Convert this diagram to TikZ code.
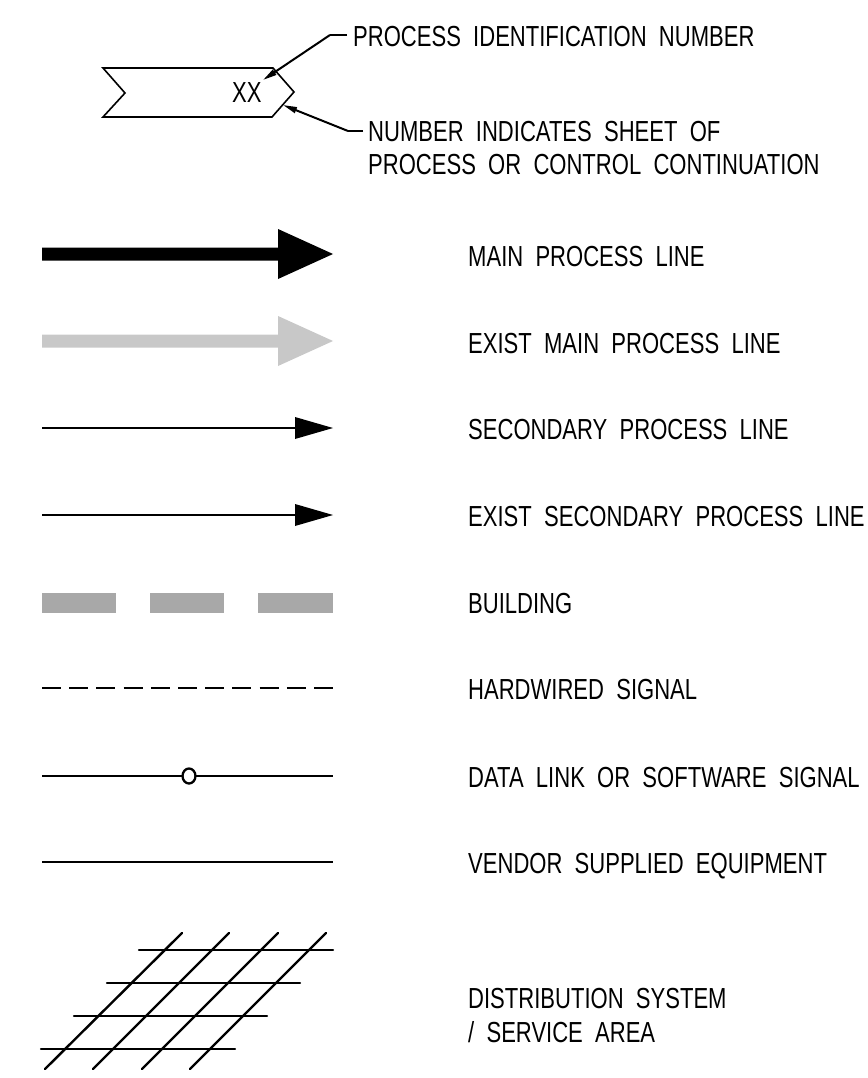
\documentclass[tikz,border=0pt]{standalone}
\usepackage{fontspec}
\setmainfont{Liberation Sans}[FakeStretch=0.76, WordSpace=2.0]
\usetikzlibrary{arrows.meta}
\definecolor{existgray}{RGB}{200,200,200}
\definecolor{buildgray}{RGB}{168,168,168}
\tikzset{
  lbl/.style={anchor=base west, inner sep=0pt, font=\fontsize{29}{34}\selectfont},
  leader/.style={line width=2pt, -{Triangle[length=14pt,width=6pt]}},
  thinline/.style={line width=2.3pt},
  gridline/.style={line width=2.4pt, line cap=round},
  tagline/.style={line width=1.6pt, line join=miter}
}
\begin{document}
\begin{tikzpicture}[x=1pt,y=-1pt]
\useasboundingbox (0,0) rectangle (867,1078);
% ---- process tag ----
\draw[tagline] (103,68) -- (273,68) -- (294,92) -- (272,117) -- (103,117) -- (125,93) -- cycle;
\node[lbl] (xx) at (232,103) {XX};
\node[lbl] (pin) at (353,47) {PROCESS IDENTIFICATION NUMBER};
\node[lbl] (nis) at (368,142) {NUMBER INDICATES SHEET OF};
\node[lbl] (poc) at (368,175) {PROCESS OR CONTROL CONTINUATION};
\coordinate (c1) at (330,35);
\coordinate (t1) at (263,80);
\coordinate (c2) at (348,131);
\coordinate (t2) at (283,105);
\draw[line width=2pt] (pin.west |- c1) ++(-6,0) -- (c1);
\draw[leader] (c1) -- (t1);
\draw[line width=2pt] (nis.west |- c2) ++(-5,0) -- (c2);
\draw[leader] (c2) -- (t2);
% ---- main process line ----
\fill (42,247.5) -- (278,247.5) -- (278,229) -- (333,254) -- (278,279) -- (278,260.5) -- (42,260.5) -- cycle;
\node[lbl] (l1) at (468,266) {MAIN PROCESS LINE};
% ---- exist main process line ----
\fill[existgray] (42,334.5) -- (278,334.5) -- (278,316) -- (333,341) -- (278,366) -- (278,347.5) -- (42,347.5) -- cycle;
\node[lbl] (l2) at (468,353) {EXIST MAIN PROCESS LINE};
% ---- secondary ----
\draw[line width=2.7pt] (42,428) -- (296,428);
\fill (295,417) -- (333,428) -- (295,439) -- cycle;
\node[lbl] (l3) at (468,439) {SECONDARY PROCESS LINE};
% ---- exist secondary ----
\draw[line width=2.1pt] (42,515) -- (296,515);
\fill (295,504) -- (333,515) -- (295,526) -- cycle;
\node[lbl] (l4) at (468,526) {EXIST SECONDARY PROCESS LINE};
% ---- building ----
\fill[buildgray] (42,593) rectangle (116,613);
\fill[buildgray] (150,593) rectangle (224,613);
\fill[buildgray] (258,593) rectangle (333,613);
\node[lbl] (l5) at (468,613) {BUILDING};
% ---- hardwired ----
\draw[thinline, dash pattern=on 19pt off 8.2pt] (42,688) -- (333,688);
\node[lbl] (l6) at (468,699) {HARDWIRED SIGNAL};
% ---- data link ----
\draw[thinline] (42,776) -- (182.5,776);
\draw[thinline] (195.5,776) -- (333,776);
\draw[thinline] (189,776) ellipse [x radius=6.5, y radius=7.5];
\node[lbl] (l7) at (468,787) {DATA LINK OR SOFTWARE SIGNAL};
% ---- vendor ----
\draw[thinline] (42,862) -- (333,862);
\node[lbl] (l8) at (468,873) {VENDOR SUPPLIED EQUIPMENT};
% ---- grid ----
\draw[gridline] (139,950) -- (333,950);
\draw[gridline] (107,983) -- (300,983);
\draw[gridline] (74,1016) -- (267,1016);
\draw[gridline] (41,1049) -- (235,1049);
\draw[gridline] (182,933) -- (45,1069);
\draw[gridline] (229,933) -- (93,1069);
\draw[gridline] (278,933) -- (142,1069);
\draw[gridline] (326,933) -- (190,1069);
\node[lbl] (l9) at (468,1008) {DISTRIBUTION SYSTEM};
\node[lbl] (l10) at (468,1042) {/ SERVICE AREA};
\end{tikzpicture}
\end{document}
